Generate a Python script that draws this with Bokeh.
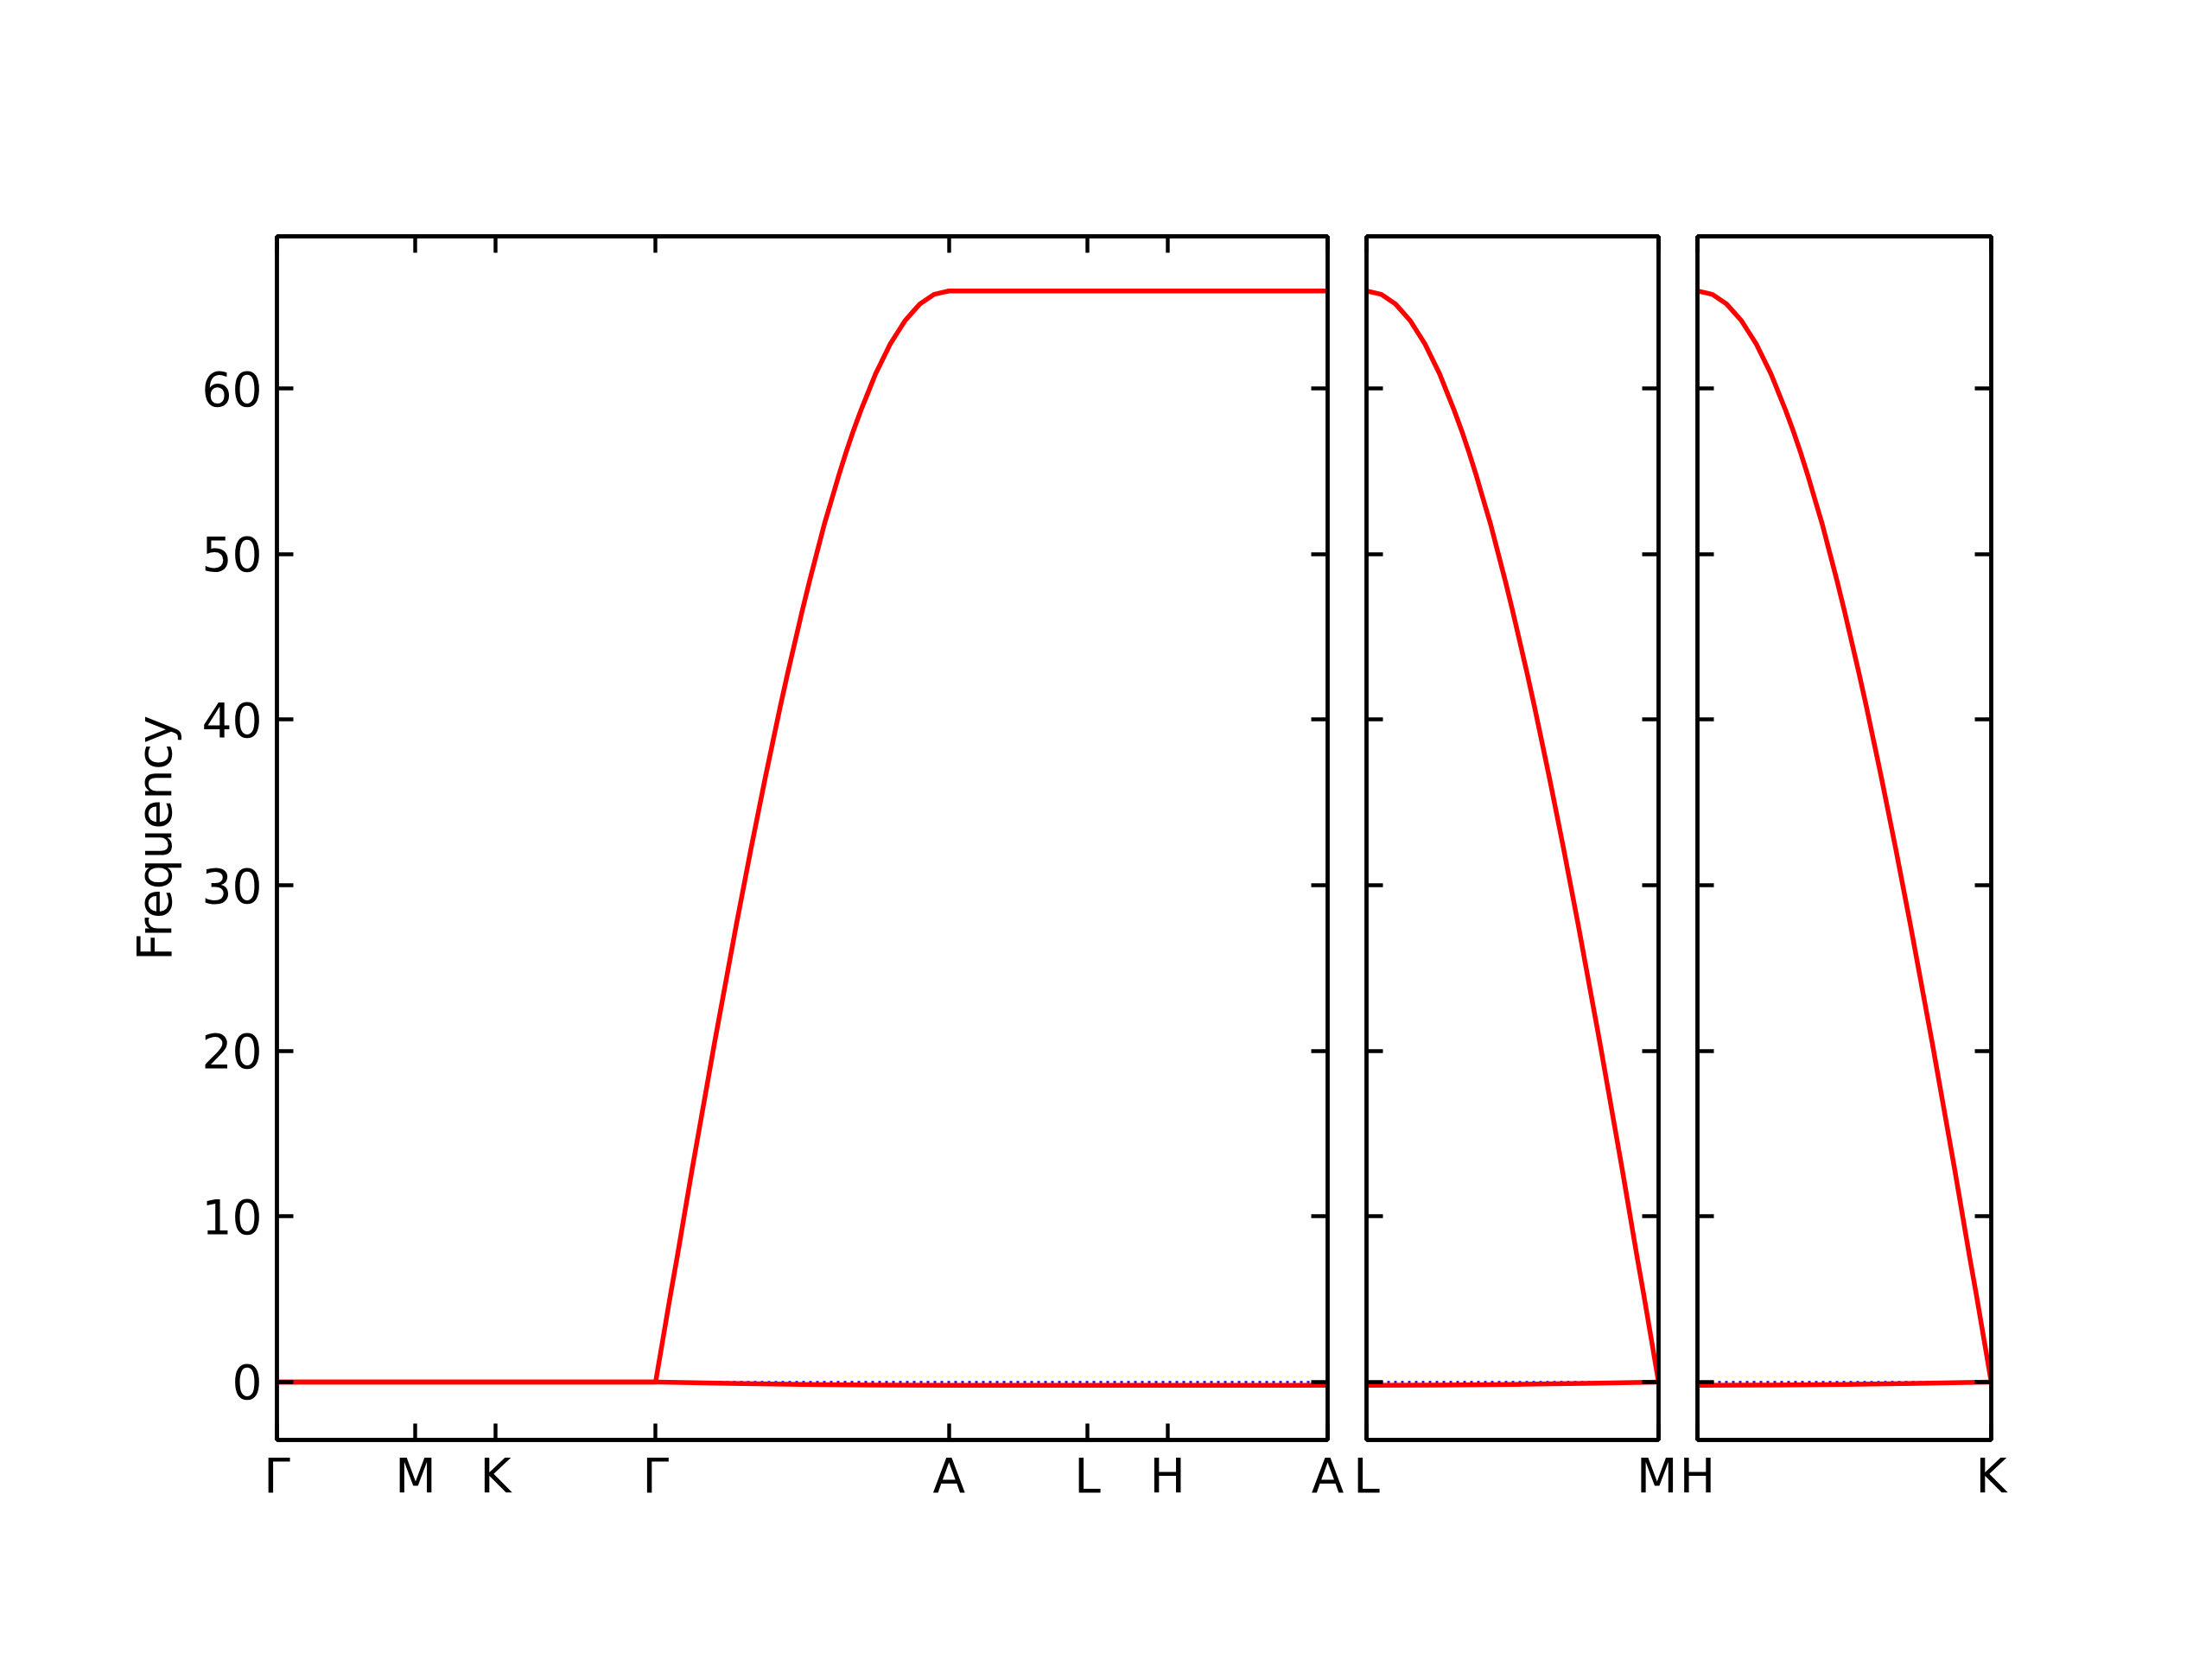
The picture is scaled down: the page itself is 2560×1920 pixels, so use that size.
import numpy as np
from bokeh.plotting import figure
from bokeh.models import Range1d, FixedTicker, LinearAxis, Span
from bokeh.layouts import row
from bokeh.embed import file_html
from bokeh.resources import INLINE

# ---------------- data ----------------
# panel 1 path: Γ-M-K-Γ-A-L-H-A (segment lengths in units of |ΓK|)
p1_labels = ["Γ", "M", "K", "Γ", "A", "L", "H", "A"]
p1_segments = [0.866, 0.5, 1.0, 1.833, 0.866, 0.5, 1.0]
p2_labels = ["L", "M"]
p2_segment = 1.833
p3_labels = ["H", "K"]
p3_segment = 1.833

y_ticks = [0, 10, 20, 30, 40, 50, 60]

# Γ-M-K-Γ: both branches at the nodes
gmkg_upper = [0.0, 0.0, 0.0, 0.0]
gmkg_lower = [0.0, 0.0, 0.0, 0.0]

# k-point sampling along a segment (fraction of the segment)
k_frac = list(np.linspace(0.0, 1.0, 41))

# Γ -> A, upper branch
ga_upper = [0.0, 2.6, 5.2, 7.7, 10.3, 12.9, 15.4, 17.9, 20.4, 22.8,
            25.2, 27.6, 29.9, 32.2, 34.4, 36.6, 38.7, 40.8, 42.8, 44.7,
            46.6, 48.4, 50.1, 51.8, 53.3, 54.8, 56.2, 57.5, 58.7, 59.8,
            60.9, 61.8, 62.7, 63.4, 64.1, 64.6, 65.1, 65.4, 65.7, 65.8, 65.9]
ga_lower_frac = [0.0, 0.25, 0.5, 0.75, 1.0]
ga_lower = [0.0, -0.08, -0.15, -0.19, -0.2]

# A-L-H-A: flat
alha_upper = [65.9, 65.9, 65.9, 65.9]
alha_lower = [-0.2, -0.2, -0.2, -0.2]

# L -> M
lm_upper = [65.9, 65.8, 65.7, 65.4, 65.1, 64.6, 64.1, 63.4, 62.7, 61.8,
            60.9, 59.8, 58.7, 57.5, 56.2, 54.8, 53.3, 51.8, 50.1, 48.4,
            46.6, 44.7, 42.8, 40.8, 38.7, 36.6, 34.4, 32.2, 29.9, 27.6,
            25.2, 22.8, 20.4, 17.9, 15.4, 12.9, 10.3, 7.7, 5.2, 2.6, 0.0]
lm_lower_frac = [0.0, 0.25, 0.5, 0.75, 1.0]
lm_lower = [-0.2, -0.19, -0.15, -0.08, 0.0]

# H -> K
hk_upper = [65.9, 65.8, 65.7, 65.4, 65.1, 64.6, 64.1, 63.4, 62.7, 61.8,
            60.9, 59.8, 58.7, 57.5, 56.2, 54.8, 53.3, 51.8, 50.1, 48.4,
            46.6, 44.7, 42.8, 40.8, 38.7, 36.6, 34.4, 32.2, 29.9, 27.6,
            25.2, 22.8, 20.4, 17.9, 15.4, 12.9, 10.3, 7.7, 5.2, 2.6, 0.0]
hk_lower_frac = [0.0, 0.25, 0.5, 0.75, 1.0]
hk_lower = [-0.2, -0.19, -0.15, -0.08, 0.0]

# ---------------- styling ----------------
FONT = "DejaVu Sans"
FS = "55px"
LW_AX = 4.4
LW = 5.5
RED = "#ff0000"
H = 1912
MB_TOP = 273
MB_BOTTOM = 246
Y0, Y1 = -3.5, 69.2


def style_axis(ax, show_labels):
    ax.axis_line_color = "black"
    ax.axis_line_width = LW_AX
    ax.major_tick_in = 19
    ax.major_tick_out = 0
    ax.major_tick_line_width = LW_AX
    ax.major_tick_line_color = "black"
    ax.minor_tick_line_color = None
    ax.major_label_text_font = FONT
    if show_labels:
        ax.major_label_text_font_size = FS
        ax.major_label_text_color = "black"
    else:
        ax.major_label_text_font_size = "1px"
        ax.major_label_text_color = None
        ax.major_label_standoff = 0


def make_panel(width, lb, rb, xend, xticks, xlabels, ylabels):
    p = figure(width=width, height=H, x_range=Range1d(0, xend), y_range=Range1d(Y0, Y1),
               output_backend="svg", toolbar_location=None,
               x_axis_location=None, y_axis_location=None,
               min_border_left=lb, min_border_right=rb,
               min_border_top=MB_TOP, min_border_bottom=MB_BOTTOM)
    p.grid.grid_line_color = None
    p.outline_line_color = "black"
    p.outline_line_width = LW_AX
    p.background_fill_color = "white"
    p.border_fill_color = "white"

    ticks = [float(t) for t in xticks]
    overrides = {t: l for t, l in zip(ticks, xlabels)}
    bottom = LinearAxis(ticker=FixedTicker(ticks=ticks), major_label_overrides=overrides)
    style_axis(bottom, True)
    bottom.major_label_standoff = 9
    top = LinearAxis(ticker=FixedTicker(ticks=ticks))
    style_axis(top, False)
    left = LinearAxis(ticker=FixedTicker(ticks=y_ticks))
    style_axis(left, ylabels)
    if ylabels:
        left.major_label_standoff = 17
        left.axis_label = "Frequency"
        left.axis_label_text_font = FONT
        left.axis_label_text_font_size = FS
        left.axis_label_text_font_style = "normal"
        left.axis_label_text_color = "black"
        left.axis_label_standoff = 20
    right = LinearAxis(ticker=FixedTicker(ticks=y_ticks))
    style_axis(right, False)
    p.add_layout(bottom, "below")
    p.add_layout(top, "above")
    p.add_layout(left, "left")
    p.add_layout(right, "right")

    p.add_layout(Span(location=0, dimension="width", line_color="blue",
                      line_dash="3 5", line_width=2.5, level="underlay"))
    return p


# ---------------- panel 1 ----------------
nodes = [0.0] + [float(v) for v in np.cumsum(p1_segments)]
g1 = nodes[3]
seg_ga = p1_segments[3]
up_x = nodes[0:4] + [g1 + f * seg_ga for f in k_frac[1:]] + nodes[5:8]
up_y = gmkg_upper + ga_upper[1:] + alha_upper[1:]
lo_x = nodes[0:4] + [g1 + f * seg_ga for f in ga_lower_frac[1:]] + nodes[5:8]
lo_y = gmkg_lower + ga_lower[1:] + alha_lower[1:]

p1 = make_panel(1558, 320, 22, nodes[-1], nodes, p1_labels, True)
p1.line(lo_x, lo_y, line_color=RED, line_width=LW, line_join="round")
p1.line(up_x, up_y, line_color=RED, line_width=LW, line_join="round")

# ---------------- panel 2 ----------------
p2 = make_panel(383, 23, 22, p2_segment, [0.0, p2_segment], p2_labels, False)
p2.line([f * p2_segment for f in lm_lower_frac], lm_lower, line_color=RED, line_width=LW, line_join="round")
p2.line([f * p2_segment for f in k_frac], lm_upper, line_color=RED, line_width=LW, line_join="round")

# ---------------- panel 3 ----------------
p3 = make_panel(611, 23, 248, p3_segment, [0.0, p3_segment], p3_labels, False)
p3.line([f * p3_segment for f in hk_lower_frac], hk_lower, line_color=RED, line_width=LW, line_join="round")
p3.line([f * p3_segment for f in k_frac], hk_upper, line_color=RED, line_width=LW, line_join="round")

layout = row(p1, p2, p3)
open("out.html", "w").write(file_html(layout, INLINE))
